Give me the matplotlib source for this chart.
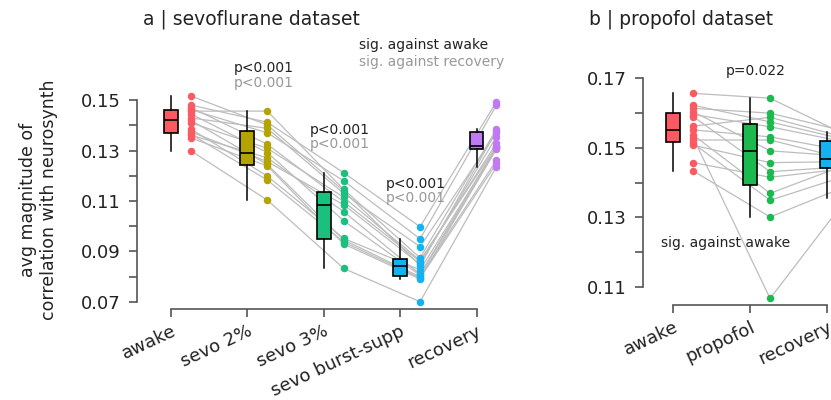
import numpy as np
import matplotlib
matplotlib.use("Agg")
import matplotlib.pyplot as plt

plt.rcParams["font.family"] = ["DejaVu Sans"]

# sevoflurane dataset, one entry per subject
sevo_conds = ["awake", "sevo 2%", "sevo 3%", "sevo burst-supp", "recovery"]
sevo_awake = [0.1516, 0.1480, 0.1470, 0.1462, 0.1456, 0.1445, 0.1429, 0.1420,
              0.1410, 0.1385, 0.1374, 0.1365, 0.1361, 0.1350, 0.1299]
sevo_2 = [0.1401, 0.1412, 0.1325, 0.1370, 0.1456, 0.1292, 0.1388, 0.1245,
          0.1309, 0.1199, 0.1256, 0.1183, 0.1271, 0.1239, 0.1104]
sevo_3 = [0.1140, 0.1212, 0.1097, 0.1180, 0.1146, 0.1022, 0.1130, 0.0946,
          0.1115, 0.0952, 0.1085, 0.0938, 0.1058, 0.0930, 0.0833]
sevo_bs = [0.0844, 0.0998, 0.0860, 0.0950, 0.0875, 0.0806, 0.0919, 0.0800,
           0.0865, 0.0827, 0.0850, 0.0795, 0.0810, 0.0791, 0.0701]
sevo_rec = [0.1378, 0.1493, 0.1329, 0.1480, 0.1384, 0.1305, 0.1371, 0.1262,
            0.1318, 0.1312, 0.1355, 0.1249, 0.1315, 0.1308, 0.1236]
sevo_colors = ["#fc5a62", "#b5a300", "#1cc07e", "#14b2f0", "#c07af2"]

# propofol dataset
prop_conds = ["awake", "propofol", "recovery"]
prop_awake = [0.1656, 0.1622, 0.1613, 0.1603, 0.1595, 0.1589, 0.1562, 0.1551,
              0.1536, 0.1528, 0.1522, 0.1512, 0.1507, 0.1457, 0.1433]
prop_prop = [0.1642, 0.1574, 0.1599, 0.1491, 0.1560, 0.1431, 0.1587, 0.1531,
             0.1369, 0.1067, 0.1522, 0.1349, 0.1457, 0.1415, 0.1301]
prop_rec = [0.1535, 0.1522, 0.1546, 0.1475, 0.1515, 0.1446, 0.1528, 0.1490,
            0.1452, 0.1355, 0.1467, 0.1420, 0.1460, 0.1440, 0.1390]
prop_colors = ["#fc5a62", "#1cba4e", "#14b2f0"]

sevo_sig = [(1, "p<0.001", "p<0.001"), (2, "p<0.001", "p<0.001"), (3, "p<0.001", "p<0.001")]

PT_OFF = 0.26
LINE_C = "#bdbdbd"
GREY_T = "#999999"


def paired(ax, groups, colors):
    groups = np.array(groups)
    pos = np.arange(groups.shape[0])
    for subj in groups.T:
        ax.plot(pos + PT_OFF, subj, color=LINE_C, lw=0.9, zorder=1)
    for i, (vals, c) in enumerate(zip(groups, colors)):
        ax.plot(np.full(len(vals), i + PT_OFF), vals, "o", ms=5.4, color=c,
                mec="none", zorder=3)
    bp = ax.boxplot(list(groups), positions=pos, widths=0.18, patch_artist=True,
                    showfliers=False, showcaps=False,
                    medianprops=dict(color="black", lw=1.2),
                    whiskerprops=dict(color="black", lw=1.1),
                    boxprops=dict(lw=1.2), zorder=2)
    for patch, c in zip(bp["boxes"], colors):
        patch.set_facecolor(c)
        patch.set_edgecolor("black")


def style(ax, ybounds, conds):
    for s in ["top", "right"]:
        ax.spines[s].set_visible(False)
    ax.spines["left"].set_bounds(*ybounds)
    ax.spines["bottom"].set_bounds(0, len(conds) - 1)
    for s in ["left", "bottom"]:
        ax.spines[s].set_color("#555555")
        ax.spines[s].set_linewidth(1.2)
    ax.tick_params(colors="#555555", labelcolor="#222222", length=6, width=1.2,
                   labelsize=13)
    ax.tick_params(axis="y", pad=6)
    ax.set_xticks(range(len(conds)))
    ax.set_xticklabels(conds, rotation=25, ha="right", rotation_mode="anchor")


fig = plt.figure(figsize=(8.31, 4.0), dpi=100)

ax1 = fig.add_axes([137 / 831, 91 / 400, 374 / 831, 219 / 400])
paired(ax1, [sevo_awake, sevo_2, sevo_3, sevo_bs, sevo_rec], sevo_colors)
ax1.set_xlim(-0.444, 4.45)
ax1.set_ylim(0.07 - 7 / 2525, 0.15 + 10 / 2525)
ax1.set_yticks(np.arange(0.07, 0.1501, 0.01))
ax1.set_yticklabels([f"{v:.2f}" if i % 2 == 0 else "" for i, v in
                     enumerate(np.arange(0.07, 0.1501, 0.01))])
style(ax1, (0.07, 0.15), sevo_conds)
ax1.set_ylabel("avg magnitude of\ncorrelation with neurosynth", fontsize=12.5,
               color="#222222", labelpad=16)
for i, top, bot in sevo_sig:
    y = max([sevo_2, sevo_3, sevo_bs][i - 1])
    ax1.text(i + PT_OFF - 0.05, y + 0.0155, top, ha="center", fontsize=10,
             color="#222222", clip_on=False)
    ax1.text(i + PT_OFF - 0.05, y + 0.0097, bot, ha="center", fontsize=10,
             color=GREY_T, clip_on=False)
ax1.text(2.46, 0.1718, "sig. against awake", fontsize=10, color="#222222",
         va="center", clip_on=False)
ax1.text(2.46, 0.1650, "sig. against recovery", fontsize=10, color=GREY_T,
         va="center", clip_on=False)

ax2 = fig.add_axes([643 / 831, 95 / 400, 230 / 831, 245 / 400])
paired(ax2, [prop_awake, prop_prop, prop_rec], prop_colors)
ax2.set_xlim(-0.395, 2.6)
ax2.set_ylim(0.11 - 18 / 3483, 0.17 + 18 / 3483)
ax2.set_yticks(np.arange(0.11, 0.1701, 0.01))
ax2.set_yticklabels([f"{v:.2f}" if i % 2 == 0 else "" for i, v in
                     enumerate(np.arange(0.11, 0.1701, 0.01))])
style(ax2, (0.11, 0.17), prop_conds)
ax2.text(1.07, 0.172, "p=0.022", ha="center", va="center", fontsize=10,
         color="#222222")
ax2.text(0.68, 0.1226, "sig. against awake", ha="center", va="center",
         fontsize=10, color="#222222")

fig.text(251 / 831, 1 - 19 / 400, "a | sevoflurane dataset", ha="center",
         va="center", fontsize=13.5, color="#222222")
fig.text(681 / 831, 1 - 19 / 400, "b | propofol dataset", ha="center",
         va="center", fontsize=13.5, color="#222222")

fig.savefig("out.png", dpi=100)
